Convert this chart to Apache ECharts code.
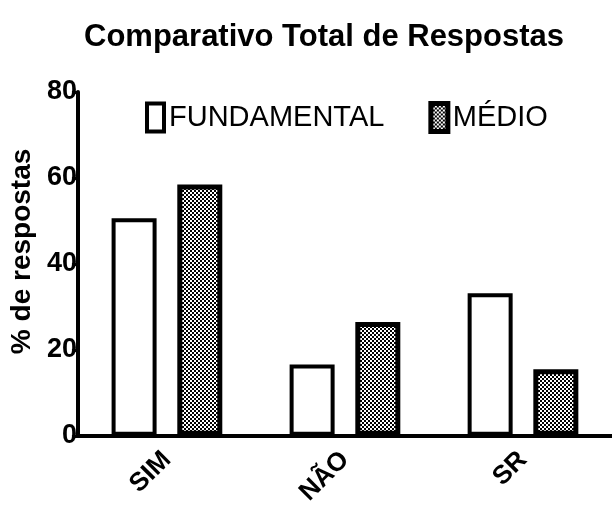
<!DOCTYPE html>
<html>
<head>
<meta charset="utf-8">
<script src="https://cdn.jsdelivr.net/npm/echarts@6/dist/echarts.min.js"></script>
<style>
  html, body { margin: 0; padding: 0; background: #fff; }
  #chart { width: 612px; height: 508px; }
</style>
</head>
<body>
<div id="chart"></div>
<script>
const categories = ['SIM', 'NÃO', 'SR']
const fundamental = [50.6, 16.6, 33.2]
const medio = [58.5, 26.5, 15.5]
const yTicks = [0, 20, 40, 60, 80]

const FONT = 'Liberation Sans, Arial, sans-serif'

// checker fill for the MÉDIO bars
function makePattern() {
  const c = document.createElement('canvas')
  c.width = 4
  c.height = 4
  const ctx = c.getContext('2d')
  ctx.fillStyle = '#fff'
  ctx.fillRect(0, 0, 4, 4)
  ctx.fillStyle = '#000'
  ctx.fillRect(0, 0, 2, 2)
  ctx.fillRect(2, 2, 2, 2)
  return c
}
const pattern = { image: makePattern(), repeat: 'repeat' }

const chart = echarts.init(document.getElementById('chart'))

chart.setOption({
  animation: false,
  backgroundColor: '#fff',
  title: {
    text: 'Comparativo Total de Respostas',
    left: 84,
    top: 22,
    padding: 0,
    textStyle: { fontFamily: FONT, fontSize: 31, fontWeight: 'bold', color: '#000' }
  },
  legend: {
    left: 140,
    top: 96,
    itemWidth: 17,
    itemHeight: 28,
    itemGap: 44,
    icon: 'rect',
    textStyle: { fontFamily: FONT, fontSize: 29, color: '#000' },
    data: [
      { name: 'FUNDAMENTAL', itemStyle: { color: '#fff', borderColor: '#000', borderWidth: 4 } },
      { name: 'MÉDIO', itemStyle: { color: pattern, borderColor: '#000', borderWidth: 5 } }
    ]
  },
  grid: { left: 77, right: 0, top: 92, bottom: 63 },
  xAxis: {
    type: 'category',
    data: categories,
    axisLine: { lineStyle: { color: '#000', width: 4 } },
    axisTick: { alignWithLabel: true, length: 6, lineStyle: { color: '#000', width: 3 } },
    axisLabel: {
      rotate: 45,
      margin: 20,
      fontFamily: FONT,
      fontSize: 26,
      fontWeight: 'bold',
      color: '#000'
    }
  },
  yAxis: {
    type: 'value',
    min: yTicks[0],
    max: yTicks[yTicks.length - 1],
    interval: 20,
    name: '% de respostas',
    nameLocation: 'middle',
    nameGap: 40,
    nameTextStyle: { fontFamily: FONT, fontSize: 28, fontWeight: 'bold', color: '#000', padding: [0, 0, 0, 25] },
    axisLine: { show: true, lineStyle: { color: '#000', width: 4 } },
    axisTick: { show: true, length: 6, lineStyle: { color: '#000', width: 3 } },
    splitLine: { show: false },
    axisLabel: { margin: 1, fontFamily: FONT, fontSize: 27, fontWeight: 'bold', color: '#000' }
  },
  series: [
    {
      name: 'FUNDAMENTAL',
      type: 'bar',
      data: fundamental,
      barWidth: 45,
      barGap: '46%',
      itemStyle: { color: '#fff', borderColor: '#000', borderWidth: 4 }
    },
    {
      name: 'MÉDIO',
      type: 'bar',
      data: medio,
      barWidth: 45,
      itemStyle: { color: pattern, borderColor: '#000', borderWidth: 5 }
    }
  ]
})
</script>
</body>
</html>
